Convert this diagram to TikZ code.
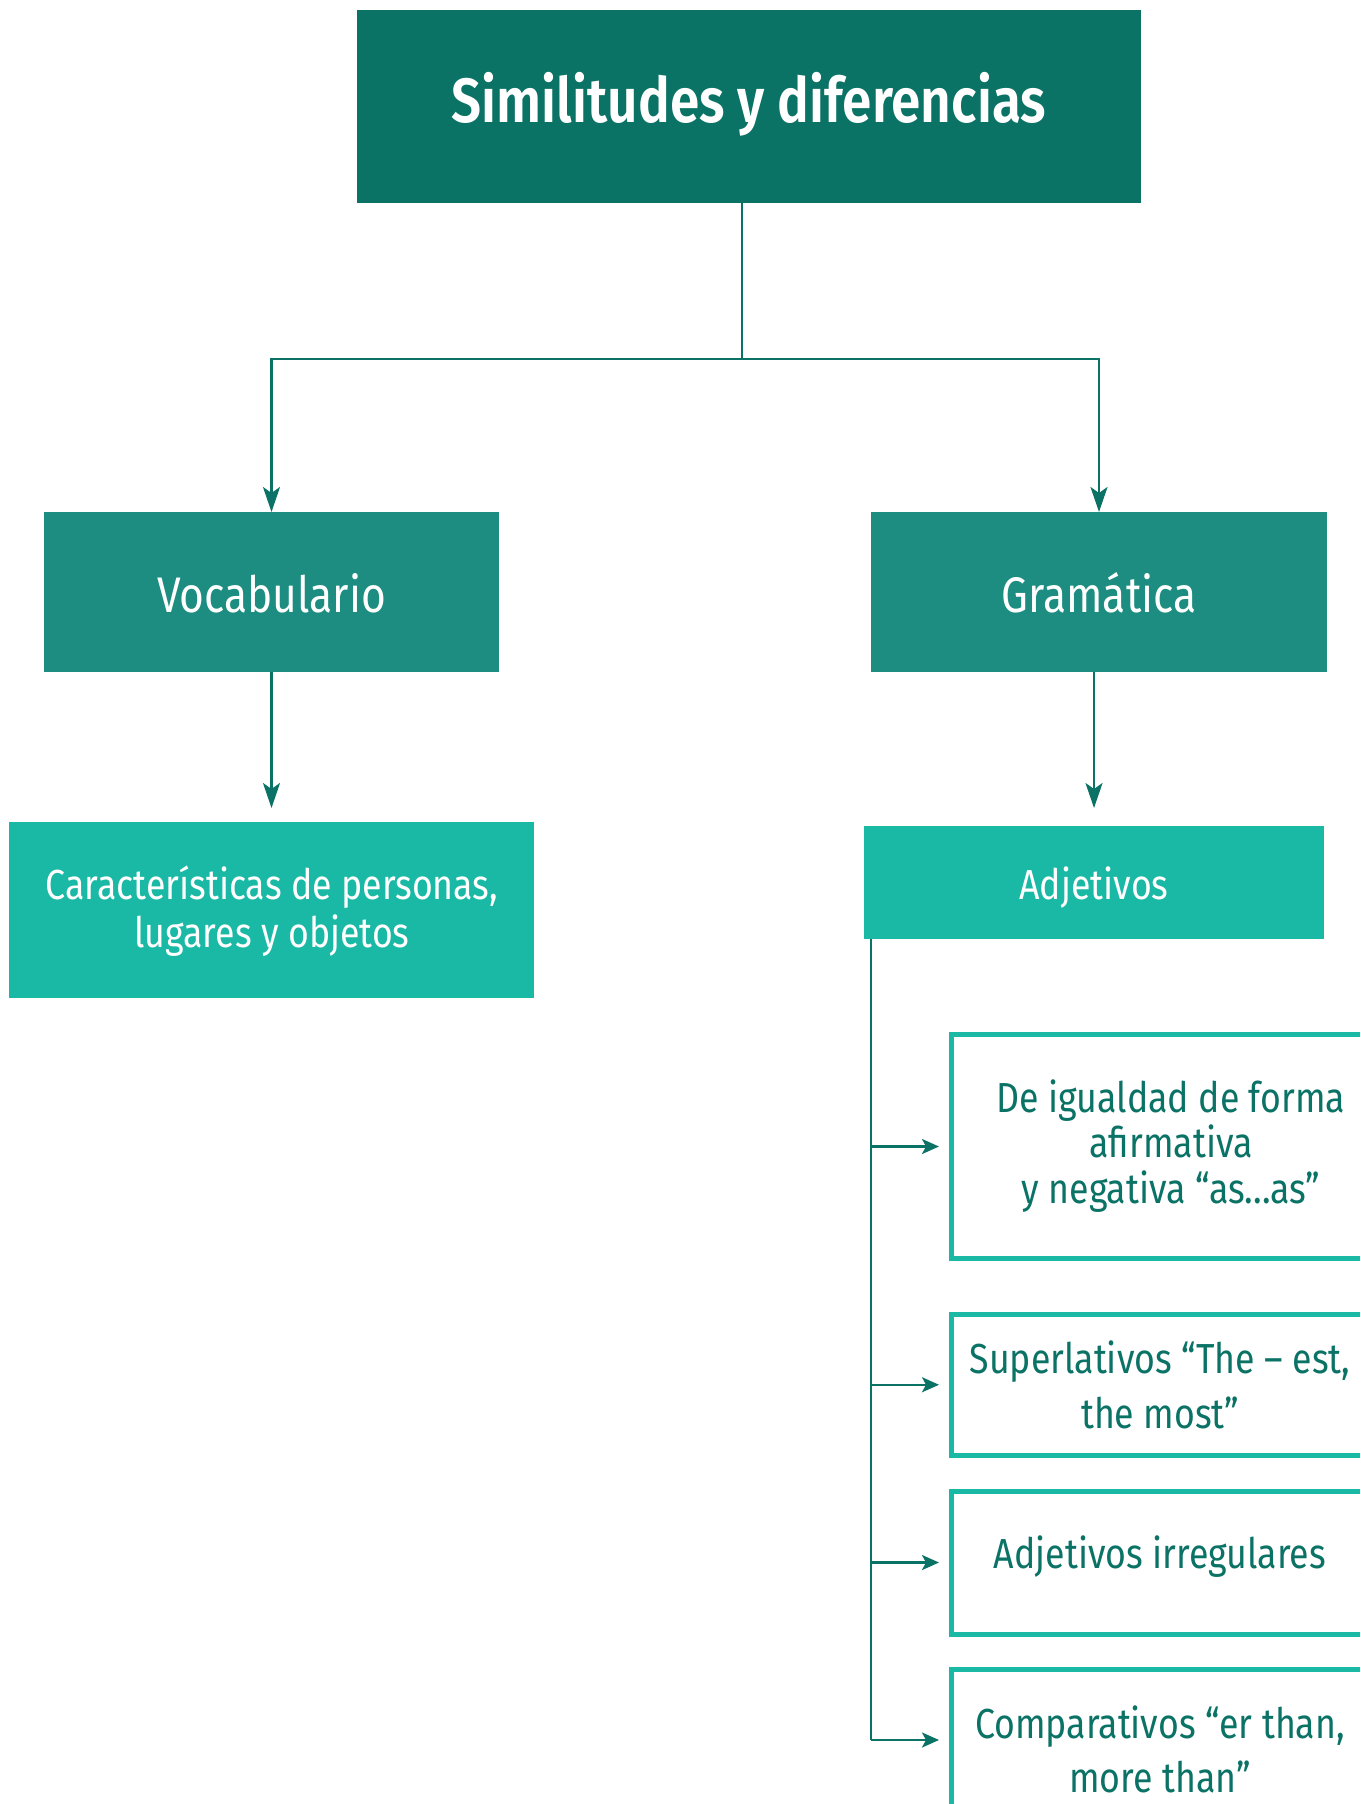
\documentclass[tikz,border=0pt]{standalone}
\usepackage{fontspec}
\setmainfont[FakeStretch=0.85, BoldFont={Fira Sans SemiBold}]{Fira Sans}
\usetikzlibrary{arrows.meta}
\definecolor{tdark}{HTML}{0B7266}
\definecolor{tmid}{HTML}{1C8D80}
\definecolor{tlight}{HTML}{1AB9A5}
\tikzset{
  box/.style={rectangle, inner sep=0pt, outer sep=0pt, anchor=north west},
  darkbox/.style={box, fill=tdark},
  midbox/.style={box, fill=tmid},
  lightbox/.style={box, fill=tlight},
  linebox/.style={box, draw=tlight, line width=5pt, fill=white},
  wtxt/.style={text=white, inner sep=0pt, anchor=base, align=center},
  dtxt/.style={text=tdark, inner sep=0pt, anchor=base, align=center},
  conn/.style={draw=tdark, line width=2.4pt},
  bigtip/.style={-{Stealth[length=25pt, width=17pt, inset=6pt]}},
  smalltip/.style={-{Stealth[length=17pt, width=15pt, inset=4pt]}},
}
\begin{document}
\begin{tikzpicture}[x=1pt,y=-1pt]
\path[use as bounding box] (0,0) rectangle (1360,1804);
\clip (0,0) rectangle (1360,1804);

% filled boxes
\node[darkbox, minimum width=784pt, minimum height=193pt] (title) at (357,10) {};
\node[midbox, minimum width=455pt, minimum height=160pt] (vocab) at (44,512) {};
\node[midbox, minimum width=456pt, minimum height=160pt] (gram) at (871,512) {};
\node[lightbox, minimum width=525pt, minimum height=176pt] (caract) at (9,822) {};
\node[lightbox, minimum width=460pt, minimum height=113pt] (adj) at (864,826) {};

% outlined boxes
\node[linebox, minimum width=438.6pt, minimum height=224pt] (b1) at (951.7,1034.5) {};
\node[linebox, minimum width=416.6pt, minimum height=141.5pt] (b2) at (951.7,1314) {};
\node[linebox, minimum width=416.6pt, minimum height=143pt] (b3) at (951.7,1491) {};
\node[linebox, minimum width=416.6pt, minimum height=142pt] (b4) at (951.7,1669) {};

% texts (base = baseline of last line)
\node[wtxt, font=\bfseries\fontsize{62.5}{75}\selectfont] (ttitle) at (749,122) {Similitudes y diferencias};
\node[wtxt, font=\fontsize{50}{60}\selectfont] (tvocab) at (271.5,612) {Vocabulario};
\node[wtxt, font=\fontsize{50}{60}\selectfont] (tgram) at (1099,612) {Gramática};
\node[wtxt, font=\fontsize{42}{48}\selectfont] (tcaract) at (272,947) {Características de personas,\\lugares y objetos};
\node[wtxt, font=\fontsize{42}{48}\selectfont] (tadj) at (1094,899) {Adjetivos};
\node[dtxt, font=\fontsize{42}{45.5}\selectfont] (t1) at (1171,1203) {De igualdad de forma\\afirmativa\\y negativa “as...as”};
\node[dtxt, font=\fontsize{42}{55}\selectfont] (t2) at (1160,1428) {Superlativos “The – est,\\the most”};
\node[dtxt, font=\fontsize{42}{55}\selectfont] (t3) at (1160,1568) {Adjetivos irregulares};
\node[dtxt, font=\fontsize{42}{54}\selectfont] (t4) at (1160,1792) {Comparativos “er than,\\more than”};

% connectors
\coordinate (split) at (742,359);
\draw[conn] (split |- title.south) -- (split);
\draw[conn, bigtip] (split) -| (vocab.north);
\draw[conn, bigtip] (split) -| (gram.north);
\draw[conn, bigtip, shorten >=14pt] (vocab.south) -- (caract.north);
\draw[conn, bigtip, shorten >=18pt] (adj.north |- gram.south) -- (adj.north);
\coordinate (bus) at ([xshift=7pt]adj.south west);
\draw[conn] (bus) -- (bus |- b4.west);
\foreach \b in {b1,b2,b3,b4}{
  \draw[conn, smalltip, shorten >=12.7pt] (bus |- \b.west) -- (\b.west);
}
\end{tikzpicture}
\end{document}
